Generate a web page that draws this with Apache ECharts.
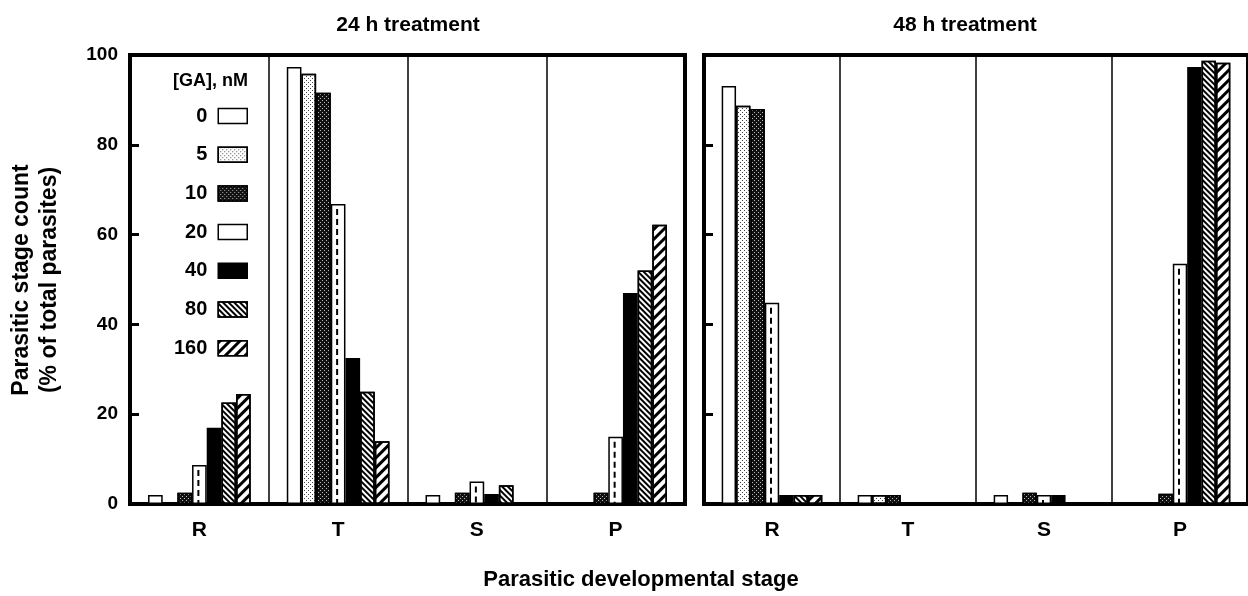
<!DOCTYPE html>
<html><head><meta charset="utf-8">
<script src="https://cdn.jsdelivr.net/npm/echarts@6/dist/echarts.min.js"></script>
<style>html,body{margin:0;padding:0;background:#fff}#c{width:1248px;height:596px}</style>
</head><body><div id="c"></div>
<script>
// ---- data ----
const stages = ['R', 'T', 'S', 'P'];
const concentrations = ['0', '5', '10', '20', '40', '80', '160'];
const panelTitles = ['24 h treatment', '48 h treatment'];
const yTickValues = [0, 20, 40, 60, 80, 100];

// 24 h treatment, values per stage R,T,S,P (% of total parasites)
const t24_ga0   = [2.0, 97.3, 2.0, 0];
const t24_ga5   = [0, 95.8, 0, 0];
const t24_ga10  = [2.5, 91.6, 2.5, 2.5];
const t24_ga20  = [8.7, 66.8, 5.0, 15.0];
const t24_ga40  = [17.0, 32.5, 2.2, 47.0];
const t24_ga80  = [22.6, 25.0, 4.2, 52.0];
const t24_ga160 = [24.5, 14.0, 0, 62.2];

// 48 h treatment
const t48_ga0   = [93.1, 2.0, 2.0, 0];
const t48_ga5   = [88.7, 2.0, 0, 0];
const t48_ga10  = [88.0, 2.0, 2.5, 2.3];
const t48_ga20  = [44.8, 0, 2.0, 53.5];
const t48_ga40  = [2.0, 0, 2.0, 97.3];
const t48_ga80  = [2.0, 0, 0, 98.7];
const t48_ga160 = [2.0, 0, 0, 98.3];

const panel24 = [t24_ga0, t24_ga5, t24_ga10, t24_ga20, t24_ga40, t24_ga80, t24_ga160];
const panel48 = [t48_ga0, t48_ga5, t48_ga10, t48_ga20, t48_ga40, t48_ga80, t48_ga160];

// ---- styles ----
const FONT = "'Liberation Sans', Arial, sans-serif";
const dotsX = [[1, 3], [0, 2, 1, 1]];
const styles = [
  { color: '#ffffff', decal: null },
  { color: '#ffffff', decal: { symbol: 'rect', symbolSize: 1, dashArrayX: dotsX, dashArrayY: [1, 1], color: '#444' } },
  { color: '#111111', decal: { symbol: 'rect', symbolSize: 1, dashArrayX: dotsX, dashArrayY: [1, 1], color: '#bbb' } },
  { color: '#ffffff', decal: null },
  { color: '#000000', decal: null },
  { color: '#ffffff', decal: { symbol: 'rect', symbolSize: 1, dashArrayX: [1, 0], dashArrayY: [2, 1.5], rotation: Math.PI / 4, color: '#000' } },
  { color: '#ffffff', decal: { symbol: 'rect', symbolSize: 1, dashArrayX: [1, 0], dashArrayY: [3, 4], rotation: -Math.PI / 4, color: '#000' } }
];

const grids = [
  { left: 130, top: 55, width: 555, height: 449, show: true, borderColor: '#000', borderWidth: 4, backgroundColor: 'transparent' },
  { left: 704, top: 55, width: 566, height: 449, show: true, borderColor: '#000', borderWidth: 4, backgroundColor: 'transparent' }
];

function xAxis(gi) {
  return {
    type: 'category', gridIndex: gi, data: stages,
    axisLine: { show: true, lineStyle: { color: '#000', width: 4 } },
    axisTick: { show: false },
    splitLine: { show: true, interval: 0, lineStyle: { color: '#000', width: 1.5 } },
    axisLabel: { color: '#000', fontFamily: FONT, fontWeight: 'bold', fontSize: 21, margin: 16 }
  };
}
function yAxis(gi) {
  return {
    type: 'value', gridIndex: gi, min: yTickValues[0], max: yTickValues[yTickValues.length - 1], interval: 20,
    axisLine: { show: true, lineStyle: { color: '#000', width: 4 } },
    axisTick: { show: true, inside: true, length: 9, lineStyle: { color: '#000', width: 3 } },
    splitLine: { show: false },
    axisLabel: { show: gi === 0, color: '#000', fontFamily: FONT, fontWeight: 'bold', fontSize: 19, margin: 12 }
  };
}

const series = [];
[panel24, panel48].forEach((panel, gi) => {
  panel.forEach((vals, si) => {
    const st = styles[si];
    const item = { color: st.color, borderColor: '#000', borderWidth: 1.5 };
    if (st.decal) item.decal = st.decal;
    series.push({
      type: 'bar', name: concentrations[si], xAxisIndex: gi, yAxisIndex: gi,
      data: vals, barGap: '0%', barCategoryGap: '26%',
      itemStyle: item, emphasis: { disabled: true }, silent: true
    });
  });
});
// dashed centre line of the 20 nM bars (4th of 7 bars => centred on the category)
[t24_ga20, t48_ga20].forEach((vals, gi) => {
  series.push({
    type: 'custom', name: 'dash20_' + gi, xAxisIndex: gi, yAxisIndex: gi, silent: true, z: 5,
    data: vals.map((v, i) => [i, v]),
    renderItem: function (params, api) {
      const v = api.value(1);
      if (!v) return null;
      const top = api.coord([api.value(0), v]);
      const base = api.coord([api.value(0), 0]);
      return {
        type: 'line',
        shape: { x1: top[0] - 1, y1: top[1] + 5, x2: top[0] - 1, y2: base[1] - 1 },
        style: { stroke: '#000', lineWidth: 2, lineDash: [6, 4] }
      };
    }
  });
});

const option = {
  animation: false,
  backgroundColor: '#fff',
  grid: grids,
  xAxis: [xAxis(0), xAxis(1)],
  yAxis: [yAxis(0), yAxis(1)],
  legend: {
    data: concentrations, orient: 'vertical', right: 1000, top: 106, align: 'right',
    itemWidth: 29, itemHeight: 15, itemGap: 18.7, padding: 0, icon: 'rect',
    selectedMode: false,
    itemStyle: { borderColor: '#000', borderWidth: 1.5 },
    textStyle: { color: '#000', fontFamily: FONT, fontWeight: 'bold', fontSize: 20, padding: [0, 6, 0, 0] }
  },
  graphic: [
    { type: 'text', x: 248, y: 81, style: { text: '[GA], nM', fill: '#000', font: 'bold 18px ' + FONT, textAlign: 'right', textVerticalAlign: 'middle' } },
    { type: 'text', x: 408, y: 25, style: { text: panelTitles[0], fill: '#000', font: 'bold 21px ' + FONT, textAlign: 'center', textVerticalAlign: 'middle' } },
    { type: 'text', x: 965, y: 25, style: { text: panelTitles[1], fill: '#000', font: 'bold 21px ' + FONT, textAlign: 'center', textVerticalAlign: 'middle' } },
    { type: 'text', x: 36, y: 280, rotation: Math.PI / 2, style: { text: 'Parasitic stage count\n(% of total parasites)', fill: '#000', font: 'bold 23px ' + FONT, lineHeight: 28, textAlign: 'center', textVerticalAlign: 'middle' } },
    { type: 'text', x: 641, y: 580, style: { text: 'Parasitic developmental stage', fill: '#000', font: 'bold 22px ' + FONT, textAlign: 'center', textVerticalAlign: 'middle' } }
  ],
  series: series
};

const chart = echarts.init(document.getElementById('c'), null, { renderer: 'canvas' });
chart.setOption(option);
</script>
</body></html>
